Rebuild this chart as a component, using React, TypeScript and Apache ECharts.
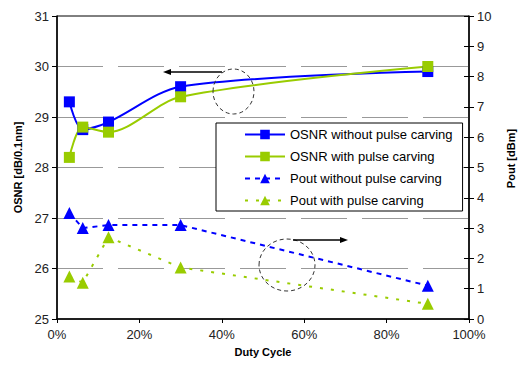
import React, { useEffect, useRef } from "react";
import * as echarts from "echarts";

const dutyCycle = [3, 6.25, 12.5, 30, 90];
const osnrWithout = [29.3, 28.75, 28.9, 29.6, 29.9];
const osnrWith = [28.2, 28.8, 28.7, 29.4, 30.0];
const poutWithout = [3.5, 3.0, 3.1, 3.1, 1.1];
const poutWith = [1.4, 1.2, 2.7, 1.7, 0.5];
const seriesNames = [
  "OSNR without pulse carving",
  "OSNR with pulse carving",
  "Pout without pulse carving",
  "Pout with pulse carving",
];

const BLUE = "#0000FF";
const GREEN = "#99CC00";
const FONT = "Liberation Sans";

const pair = (ys: number[]) => dutyCycle.map((x, i) => [x, ys[i]]);

export default function App() {
  const ref = useRef<HTMLDivElement>(null);
  useEffect(() => {
    if (!ref.current) return;
    const chart = echarts.init(ref.current, undefined, { renderer: "svg" });
    const labelStyle = { color: "#222", fontSize: 13, fontFamily: FONT };
    chart.setOption({
      animation: false,
      backgroundColor: "#fff",
      textStyle: { fontFamily: FONT },
      grid: {
        left: 57,
        right: 40,
        top: 16,
        bottom: 46,
        show: true,
        borderColor: "#000",
        borderWidth: 1,
        backgroundColor: "transparent",
      },
      xAxis: {
        type: "value",
        min: 0,
        max: 100,
        interval: 20,
        name: "Duty Cycle",
        nameLocation: "middle",
        nameGap: 27,
        nameTextStyle: { fontWeight: "bold", fontSize: 11, color: "#000", fontFamily: FONT },
        axisLine: { show: true, lineStyle: { color: "#000", width: 1.5 } },
        axisTick: { show: true, length: 4, lineStyle: { color: "#000" } },
        axisLabel: { ...labelStyle, formatter: "{value}%", margin: 9 },
        splitLine: { show: false },
      },
      yAxis: [
        {
          type: "value",
          position: "left",
          min: 25,
          max: 31,
          interval: 1,
          name: "OSNR [dB/0.1nm]",
          nameLocation: "middle",
          nameGap: 30,
          nameRotate: 90,
          nameTextStyle: { fontWeight: "bold", fontSize: 11, color: "#000", fontFamily: FONT },
          axisLine: { show: true, lineStyle: { color: "#000", width: 1.5 } },
          axisTick: { show: true, length: 5, lineStyle: { color: "#000" } },
          axisLabel: { ...labelStyle, margin: 8 },
          splitLine: {
            show: true,
            showMinLine: false,
            showMaxLine: false,
            lineStyle: { color: "#999", width: 1, type: [46, 15] },
          },
        },
        {
          type: "value",
          position: "right",
          min: 0,
          max: 10,
          interval: 1,
          name: "Pout [dBm]",
          nameLocation: "middle",
          nameGap: 36,
          nameRotate: 90,
          nameTextStyle: {
            fontWeight: "bold",
            fontSize: 11,
            color: "#000",
            fontFamily: FONT,
            padding: [0, 0, 0, 18],
          },
          axisLine: { show: true, lineStyle: { color: "#000", width: 1.5 } },
          axisTick: { show: true, length: 5, lineStyle: { color: "#000" } },
          axisLabel: { ...labelStyle, margin: 8 },
          splitLine: { show: false },
        },
        {
          type: "value",
          position: "right",
          min: 0,
          max: 10,
          interval: 1,
          axisLine: { show: false },
          axisTick: { show: true, inside: true, length: 5, lineStyle: { color: "#000" } },
          axisLabel: { show: false },
          splitLine: { show: false },
        },
      ],
      legend: {
        orient: "vertical",
        left: 216,
        top: 123,
        width: 259,
        padding: [5, 10, 4, 28],
        itemWidth: 40,
        itemHeight: 12,
        itemGap: 9,
        backgroundColor: "#fff",
        borderColor: "#000",
        borderWidth: 1,
        borderRadius: 0,
        textStyle: { fontSize: 13, color: "#000", fontFamily: FONT },
        data: seriesNames,
      },
      series: [
        {
          name: seriesNames[0],
          type: "line",
          yAxisIndex: 0,
          data: pair(osnrWithout),
          smooth: 0.3,
          symbol: "rect",
          symbolSize: 11,
          itemStyle: { color: BLUE },
          lineStyle: { color: BLUE, width: 2 },
        },
        {
          name: seriesNames[1],
          type: "line",
          yAxisIndex: 0,
          data: pair(osnrWith),
          smooth: 0.3,
          symbol: "rect",
          symbolSize: 11,
          itemStyle: { color: GREEN },
          lineStyle: { color: GREEN, width: 2 },
        },
        {
          name: seriesNames[2],
          type: "line",
          yAxisIndex: 1,
          data: pair(poutWithout),
          symbol: "triangle",
          symbolSize: 12,
          itemStyle: { color: BLUE },
          lineStyle: { color: BLUE, width: 2, type: [5, 5] },
        },
        {
          name: seriesNames[3],
          type: "line",
          yAxisIndex: 1,
          data: pair(poutWith),
          symbol: "triangle",
          symbolSize: 12,
          itemStyle: { color: GREEN },
          lineStyle: { color: GREEN, width: 2, type: [3, 8] },
        },
      ],
      graphic: [
        {
          type: "ellipse",
          shape: { cx: 233.5, cy: 91.5, rx: 20.5, ry: 22.5 },
          style: { fill: "none", stroke: "#333", lineWidth: 1, lineDash: [4, 3] },
          z: 10,
        },
        {
          type: "ellipse",
          shape: { cx: 287, cy: 265, rx: 28, ry: 26 },
          style: { fill: "none", stroke: "#333", lineWidth: 1, lineDash: [4, 3] },
          z: 10,
        },
        {
          type: "line",
          shape: { x1: 222, y1: 72, x2: 169, y2: 72 },
          style: { stroke: "#000", lineWidth: 1.5 },
          z: 10,
        },
        {
          type: "polygon",
          shape: { points: [[163, 72], [171, 69], [171, 75]] },
          style: { fill: "#000" },
          z: 10,
        },
        {
          type: "line",
          shape: { x1: 293, y1: 240, x2: 342, y2: 240 },
          style: { stroke: "#000", lineWidth: 1.5 },
          z: 10,
        },
        {
          type: "polygon",
          shape: { points: [[348, 240], [340, 237], [340, 243]] },
          style: { fill: "#000" },
          z: 10,
        },
      ],
    });
    return () => chart.dispose();
  }, []);
  return (
    <div
      ref={ref}
      style={{ position: "absolute", left: 0, top: 0, width: 524, height: 365 }}
    />
  );
}
